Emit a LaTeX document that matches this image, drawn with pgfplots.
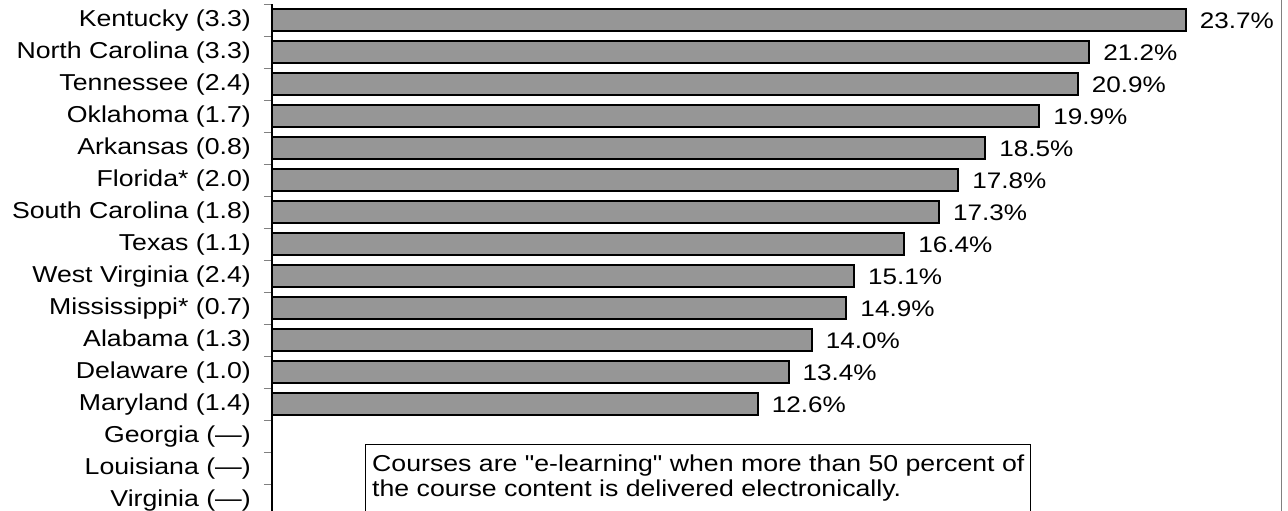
\documentclass[border=0pt]{standalone}
\usepackage{fontspec}
\setmainfont{Liberation Sans}[FakeStretch=1.16, Ligatures=TeXOff]
\usepackage{pgfplots}
\pgfplotsset{compat=1.18}
\definecolor{barfill}{RGB}{150,150,150}
\begin{document}
\fontsize{23}{27}\selectfont
\begin{tikzpicture}[x=1pt,y=1pt]
\path[use as bounding box] (0,0) rectangle (1288,511);
\begin{axis}[
  at={(272pt,0pt)}, anchor=south west,
  scale only axis, width=1009pt, height=506.5pt,
  xmin=0, xmax=26.17, ymin=-0.5, ymax=15.33,
  y dir=reverse,
  axis x line=none,
  axis y line*=left,
  axis line style={-, line width=1.5pt, black},
  xtick=\empty,
  ytick={0,...,15},
  yticklabels={Kentucky (3.3), North Carolina (3.3), Tennessee (2.4), Oklahoma (1.7), Arkansas (0.8), Florida* (2.0), South Carolina (1.8), Texas (1.1), West Virginia (2.4), Mississippi* (0.7), Alabama (1.3), Delaware (1.0), Maryland (1.4), Georgia (—), Louisiana (—), Virginia (—)},
  major tick length=0pt,
  minor ytick={-0.5,0.5,...,14.5},
  minor tick length=8pt,
  tick align=outside,
  minor tick style={gray, line width=1pt},
  yticklabel style={font=\fontsize{23}{27}\selectfont, inner sep=0pt, xshift=-21pt, anchor=east},
  /pgf/number format/assume math mode=true,
  xbar, bar width=22pt, bar shift=0pt,
  point meta=x,
  nodes near coords={\pgfmathprintnumber[fixed,fixed zerofill,precision=1,assume math mode=true]{\pgfplotspointmeta}\%},
  every node near coord/.append style={anchor=west, inner sep=0pt, xshift=13pt, font=\fontsize{22.5}{27}\selectfont, black},
  clip=false,
]
\addplot[fill=barfill, draw=black, line width=2pt] coordinates {
  (23.7,0) (21.2,1) (20.9,2) (19.9,3) (18.5,4) (17.8,5) (17.3,6) (16.4,7)
  (15.1,8) (14.9,9) (14.0,10) (13.4,11) (12.6,12)
};
\end{axis}
\draw[gray, line width=1pt] (1281.5,0) -- (1281.5,511);
\draw[line width=1pt] (365,-5) -- (365,66) -- (1030,66) -- (1030,-5);
\node[anchor=base west, inner sep=0pt] at (372,39) {Courses are "e-learning" when more than 50 percent of};
\node[anchor=base west, inner sep=0pt] at (372,14) {the course content is delivered electronically.};
\end{tikzpicture}
\end{document}
